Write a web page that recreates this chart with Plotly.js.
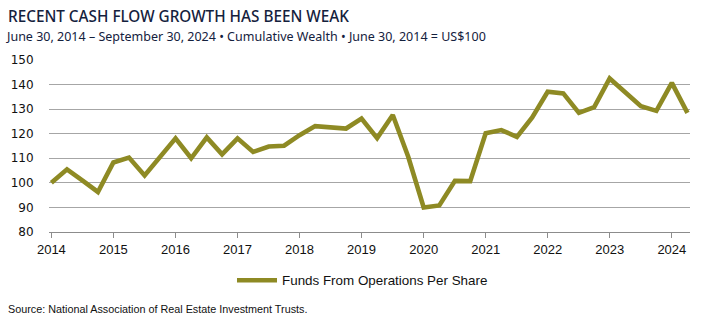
<!DOCTYPE html>
<html>
<head>
<meta charset="utf-8">
<script src="https://cdn.plot.ly/plotly-3.0.1.min.js"></script>
<style>
  html, body { margin: 0; padding: 0; background: #ffffff; }
  #chart { width: 716px; height: 330px; }
</style>
</head>
<body>
<div id="chart"></div>
<script>
// Quarter-end dates, June 30, 2014 - September 30, 2024
const quarterDates = [
  "2014-06-30","2014-09-30","2014-12-31",
  "2015-03-31","2015-06-30","2015-09-30","2015-12-31",
  "2016-03-31","2016-06-30","2016-09-30","2016-12-31",
  "2017-03-31","2017-06-30","2017-09-30","2017-12-31",
  "2018-03-31","2018-06-30","2018-09-30","2018-12-31",
  "2019-03-31","2019-06-30","2019-09-30","2019-12-31",
  "2020-03-31","2020-06-30","2020-09-30","2020-12-31",
  "2021-03-31","2021-06-30","2021-09-30","2021-12-31",
  "2022-03-31","2022-06-30","2022-09-30","2022-12-31",
  "2023-03-31","2023-06-30","2023-09-30","2023-12-31",
  "2024-03-31","2024-06-30","2024-09-30"
];

// Cumulative wealth of Funds From Operations per share (June 30, 2014 = 100)
const ffoPerShare = [
  100, 105.5, 100.9,
  96.3, 108.3, 110.3, 103,
  110.7, 118.1, 110, 118.5,
  111.6, 118.1, 112.6, 114.8,
  115.1, 119.4, 123.1, 122.8,
  122.1, 126.2, 118.2, 127.6,
  110.6, 90, 90.8, 100.8,
  100.7, 120.2, 121.5, 118.7,
  126.6, 137.1, 136.4, 128.5,
  130.8, 142.5, 137, 131.2,
  129.3, 140.7, 128.5
];

const seriesName = "Funds From Operations Per Share";

const tickDates = ["2014-06-30","2015-06-30","2016-06-30","2017-06-30","2018-06-30",
                   "2019-06-30","2020-06-30","2021-06-30","2022-06-30","2023-06-30","2024-06-30"];
const tickLabels = ["2014","2015","2016","2017","2018","2019","2020","2021","2022","2023","2024"];
const yTicks = [80, 90, 100, 110, 120, 130, 140, 150];

const titleText = "RECENT CASH FLOW GROWTH HAS BEEN WEAK";
const subtitleText = "June 30, 2014 \u2013 September 30, 2024 \u2022 Cumulative Wealth \u2022 June 30, 2014 = US$100";
const sourceText = "Source: National Association of Real Estate Investment Trusts.";

const sans = "'Liberation Sans', Arial, sans-serif";
const olive = "#8E8A24";
const gridGray = "#A6A6A6";

const trace = {
  x: quarterDates,
  y: ffoPerShare,
  type: "scatter",
  mode: "lines",
  name: seriesName,
  line: { color: olive, width: 4.6, shape: "linear" },
  hoverinfo: "x+y"
};

const layout = {
  width: 716,
  height: 330,
  margin: { l: 49, r: 26, t: 60, b: 98 },
  paper_bgcolor: "#ffffff",
  plot_bgcolor: "#ffffff",
  title: {
    text: titleText,
    x: 8 / 716, xanchor: "left", xref: "container",
    y: 1 - 17 / 330, yanchor: "middle", yref: "container",
    font: { family: "'Noto Sans', 'Open Sans', sans-serif", size: 15.3, color: "#14213D", weight: 500 }
  },
  xaxis: {
    type: "date",
    range: ["2014-06-16", "2024-10-15"],
    tickvals: tickDates,
    ticktext: tickLabels,
    showgrid: false,
    zeroline: false,
    showline: true,
    linecolor: "#8C8C8C",
    linewidth: 1,
    ticks: "outside",
    ticklen: 5,
    tickcolor: "#8C8C8C",
    tickwidth: 1,
    tickfont: { family: sans, size: 13, color: "#111111" },
    fixedrange: true
  },
  yaxis: {
    range: [80, 150],
    tickvals: yTicks,
    showgrid: true,
    gridcolor: gridGray,
    gridwidth: 1,
    zeroline: false,
    showline: false,
    ticks: "outside",
    ticklen: 12,
    tickcolor: "rgba(0,0,0,0)",
    tickfont: { family: "'DejaVu Sans', Verdana, sans-serif", size: 12, color: "#111111" },
    fixedrange: true
  },
  showlegend: true,
  legend: {
    orientation: "h",
    x: (232 - 49) / 641, xanchor: "left", xref: "paper",
    y: (232 - 280.5) / 172, yanchor: "middle", yref: "paper",
    font: { family: sans, size: 13.4, color: "#111111" },
    bgcolor: "rgba(0,0,0,0)",
    itemwidth: 40
  },
  annotations: [
    {
      text: subtitleText,
      xref: "paper", yref: "paper",
      x: (4 - 49) / 641, xanchor: "left",
      y: 1 + (60 - 36) / 172, yanchor: "middle",
      showarrow: false,
      font: { family: "'Noto Sans', 'Open Sans', sans-serif", size: 12.5, color: "#14213D" }
    },
    {
      text: sourceText,
      xref: "paper", yref: "paper",
      x: (6 - 49) / 641, xanchor: "left",
      y: (232 - 308.7) / 172, yanchor: "middle",
      showarrow: false,
      font: { family: sans, size: 10.8, color: "#111111" }
    }
  ]
};

Plotly.newPlot("chart", [trace], layout, { staticPlot: true, displayModeBar: false });
</script>
</body>
</html>
